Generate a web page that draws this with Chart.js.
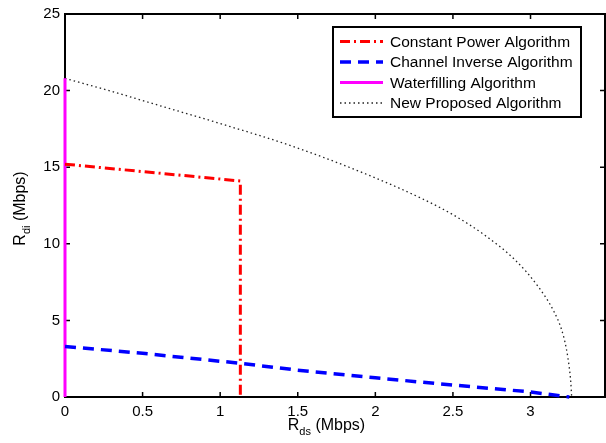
<!DOCTYPE html>
<html>
<head>
<meta charset="utf-8">
<script src="https://cdn.jsdelivr.net/npm/chart.js@4.4.1/dist/chart.umd.min.js"></script>
<style>
  html, body { margin: 0; padding: 0; background: #fff; }
</style>
</head>
<body>
<canvas id="rateChart" width="606" height="443"></canvas>
<script>
const seriesNames = ['Constant Power Algorithm', 'Channel Inverse Algorithm', 'Waterfilling Algorithm', 'New Proposed Algorithm'];

// values (x: R_ds, y: R_di, both Mbps)
const constPowerX = [0, 1.13, 1.13];
const constPowerY = [15.2, 14.1, 0];

const chanInvX = [0, 0.5, 1.13, 1.5, 2, 2.5, 3, 3.25];
const chanInvY = [3.3, 2.85, 2.2, 1.75, 1.25, 0.78, 0.33, 0];

const waterX = [0, 0];
const waterY = [0, 20.8];

const proposedX = [0, 0.3, 0.6, 1.0, 1.5, 2.0, 2.3, 2.5, 2.7, 2.9, 3.05, 3.15, 3.2, 3.23, 3.25, 3.26, 3.265];
const proposedY = [20.8, 19.95, 19.05, 17.85, 16.25, 14.3, 12.95, 11.9, 10.6, 8.95, 7.2, 5.6, 4.4, 3.2, 1.9, 0.9, 0];

const xTicks = [0, 0.5, 1, 1.5, 2, 2.5, 3];
const yTicks = [0, 5, 10, 15, 20, 25];

const FONT = '"Liberation Sans", Arial, Helvetica, sans-serif';

function pts(xs, ys) {
    return xs.map((v, i) => ({ x: v, y: ys[i] }));
}

// MATLAB-like box: frame, inward ticks on all four sides, legend, subscripted titles
const matlabFrame = {
    id: 'matlabFrame',
    beforeDatasetsDraw(chart) {
        const { ctx, chartArea: a, scales: { x, y } } = chart;
        ctx.save();
        ctx.strokeStyle = '#000';
        ctx.lineWidth = 1.5;
        ctx.beginPath();
        xTicks.forEach(v => {
            const p = x.getPixelForValue(v);
            ctx.moveTo(p, a.bottom); ctx.lineTo(p, a.bottom - 5);
            ctx.moveTo(p, a.top); ctx.lineTo(p, a.top + 5);
        });
        yTicks.forEach(v => {
            const p = y.getPixelForValue(v);
            ctx.moveTo(a.left, p); ctx.lineTo(a.left + 5, p);
            ctx.moveTo(a.right, p); ctx.lineTo(a.right - 5, p);
        });
        ctx.stroke();
        ctx.lineWidth = 2;
        ctx.strokeRect(a.left, a.top, a.right - a.left, a.bottom - a.top);
        ctx.restore();
    },
    afterDraw(chart) {
        const ctx = chart.ctx;
        ctx.save();

        // legend
        ctx.fillStyle = '#fff';
        ctx.fillRect(333, 27, 248, 90);
        ctx.strokeStyle = '#000';
        ctx.lineWidth = 2;
        ctx.strokeRect(333, 27, 248, 90);
        chart.data.datasets.forEach((ds, i) => {
            const ry = 41.5 + i * 20.5;
            ctx.beginPath();
            ctx.setLineDash(ds.borderDash || []);
            ctx.strokeStyle = ds.borderColor;
            ctx.lineWidth = ds.borderWidth;
            ctx.moveTo(340, ry);
            ctx.lineTo(383, ry);
            ctx.stroke();
            ctx.setLineDash([]);
            ctx.fillStyle = '#000';
            ctx.font = '15.5px ' + FONT;
            ctx.textBaseline = 'middle';
            ctx.textAlign = 'left';
            ctx.fillText(ds.label, 390, ry + 1);
        });

        // axis titles with subscripts
        const drawTitle = (sub) => {
            ctx.font = '16px ' + FONT;
            const w1 = ctx.measureText('R').width;
            const w3 = ctx.measureText(' (Mbps)').width;
            ctx.font = '11px ' + FONT;
            const w2 = ctx.measureText(sub).width;
            const x0 = -(w1 + w2 + w3) / 2;
            ctx.textAlign = 'left';
            ctx.textBaseline = 'alphabetic';
            ctx.fillStyle = '#000';
            ctx.font = '16px ' + FONT;
            ctx.fillText('R', x0, 0);
            ctx.font = '11px ' + FONT;
            ctx.fillText(sub, x0 + w1, 5);
            ctx.font = '16px ' + FONT;
            ctx.fillText(' (Mbps)', x0 + w1 + w2, 0);
        };
        ctx.save();
        ctx.translate(326.5, 430);
        drawTitle('ds');
        ctx.restore();
        ctx.save();
        ctx.translate(25, 208.5);
        ctx.rotate(-Math.PI / 2);
        drawTitle('di');
        ctx.restore();

        ctx.restore();
    }
};

const tickFont = { family: FONT, size: 15 };

const ctx = document.getElementById('rateChart').getContext('2d');
const rateChart = new Chart(ctx, {
    type: 'scatter',
    data: {
        datasets: [{
            label: seriesNames[0],
            data: pts(constPowerX, constPowerY),
            borderColor: '#ff0000',
            borderWidth: 3,
            borderDash: [10, 4, 2, 4],
        },
        {
            label: seriesNames[1],
            data: pts(chanInvX, chanInvY),
            borderColor: '#0000ff',
            borderWidth: 3.5,
            borderDash: [11, 7],
        },
        {
            label: seriesNames[2],
            data: pts(waterX, waterY),
            borderColor: '#ff00ff',
            borderWidth: 3,
        },
        {
            label: seriesNames[3],
            data: pts(proposedX, proposedY),
            borderColor: '#222222',
            borderWidth: 1.3,
            borderDash: [1.5, 3],
            cubicInterpolationMode: 'monotone',
        }]
    },
    options: {
        responsive: false,
        animation: false,
        devicePixelRatio: 1,
        datasets: {
            scatter: {
                showLine: true,
                pointRadius: 0,
                pointHoverRadius: 0,
                fill: false,
                clip: 6,
            }
        },
        layout: {
            padding: { top: 13, right: 1, left: 0, bottom: 0 }
        },
        plugins: {
            legend: { display: false },
            tooltip: { enabled: false }
        },
        scales: {
            x: {
                type: 'linear',
                min: 0,
                max: 3.48,
                grid: { display: false, drawTicks: false },
                border: { display: false },
                ticks: {
                    font: tickFont,
                    color: '#000',
                    padding: 6,
                    maxRotation: 0,
                    autoSkip: false,
                    callback: v => String(v)
                },
                afterBuildTicks: s => { s.ticks = xTicks.map(v => ({ value: v })); },
                afterFit: s => { s.height = 46; }
            },
            y: {
                type: 'linear',
                min: 0,
                max: 25,
                grid: { display: false, drawTicks: false },
                border: { display: false },
                ticks: {
                    font: tickFont,
                    color: '#000',
                    padding: 5,
                    autoSkip: false,
                    callback: v => String(v)
                },
                afterBuildTicks: s => { s.ticks = yTicks.map(v => ({ value: v })); },
                afterFit: s => { s.width = 65; }
            }
        }
    },
    plugins: [matlabFrame]
});
</script>
</body>
</html>
